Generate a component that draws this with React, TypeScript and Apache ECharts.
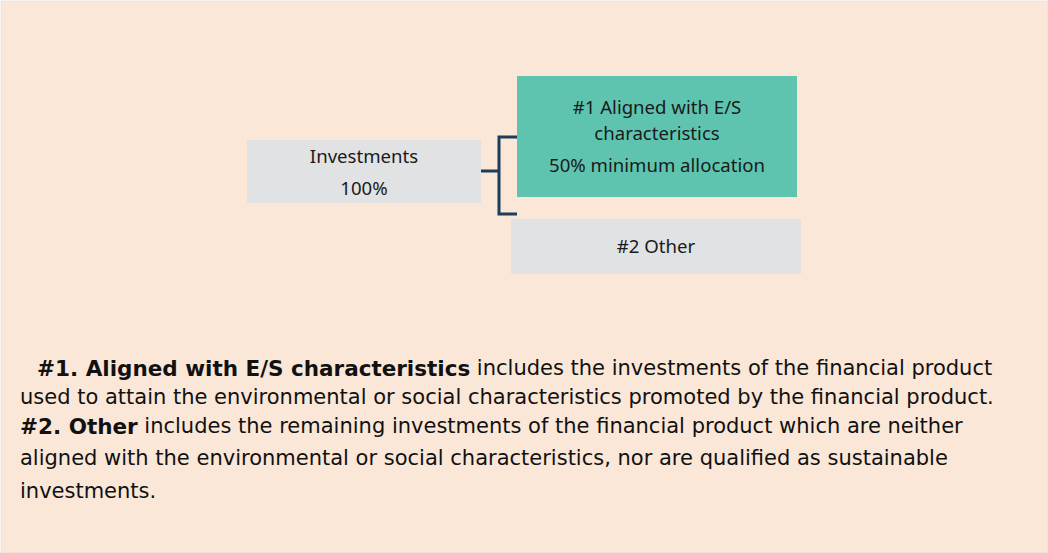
import React, { useEffect, useRef } from "react";
import * as echarts from "echarts";

const nodeLabels = ["Investments", "#1 Aligned with E/S", "characteristics", "#2 Other"];
const nodeValues = ["100%", "50% minimum allocation", ""];
const noteLines = [
  ["#1. Aligned with E/S characteristics", " includes the investments of the financial product"],
  ["", "used to attain the environmental or social characteristics promoted by the financial product."],
  ["#2. Other", " includes the remaining investments of the financial product which are neither"],
  ["", "aligned with the environmental or social characteristics, nor are qualified as sustainable"],
  ["", "investments."],
];

const BG = "#FAE7D7";
const GRAY = "#E1E2E3";
const TEAL = "#5EC4AF";
const NAVY = "#1D3D5A";
const BOXFONT = "'Noto Sans'";
const NOTEFONT = "'DejaVu Sans'";

export default function App() {
  const ref = useRef<HTMLDivElement>(null);
  useEffect(() => {
    document.body.style.margin = "0";
    const chart = echarts.init(ref.current!, null, { renderer: "svg" });
    const boxText = (t: string, x: number, y: number) => ({
      type: "text",
      x,
      y,
      style: {
        text: t,
        fill: "#1a1a1a",
        font: `18.6px ${BOXFONT}`,
        align: "center",
        verticalAlign: "middle",
      },
    });
    const lineYs = [368, 397, 426, 458, 491];
    const notes = noteLines.map((ln, i) => {
      const [b, n] = ln;
      const parts: string[] = [];
      if (b) parts.push(`{b|${b}}`);
      if (n) parts.push(`{n|${n}}`);
      return {
        type: "text",
        x: i === 0 ? 37 : 20,
        y: lineYs[i],
        style: {
          text: parts.join(""),
          verticalAlign: "middle",
          align: "left",
          rich: {
            b: { font: `bold 21.5px ${NOTEFONT}`, fill: "#111" },
            n: { font: `21px ${NOTEFONT}`, fill: "#111" },
          },
        },
      };
    });
    const option: any = {
      animation: false,
      backgroundColor: "#ffffff",
      graphic: [
        { type: "rect", shape: { x: 1, y: 1, width: 1047, height: 552 }, style: { fill: BG, stroke: "#e0d8d0", lineWidth: 0.6 } },
        { type: "rect", shape: { x: 247, y: 140, width: 234, height: 63 }, style: { fill: GRAY } },
        { type: "rect", shape: { x: 517, y: 76, width: 280, height: 121 }, style: { fill: TEAL } },
        { type: "rect", shape: { x: 511, y: 219, width: 290, height: 55 }, style: { fill: GRAY } },
        { type: "polyline", shape: { points: [[481, 171], [499, 171]] }, style: { stroke: NAVY, lineWidth: 3, fill: "none" } },
        { type: "polyline", shape: { points: [[517, 137], [499, 137], [499, 214], [517, 214]] }, style: { stroke: NAVY, lineWidth: 3, fill: "none" } },
        boxText(nodeLabels[0], 364, 155),
        boxText(nodeValues[0], 364, 187),
        boxText(nodeLabels[1], 657, 106.5),
        boxText(nodeLabels[2], 657, 132),
        boxText(nodeValues[1], 657, 164.5),
        boxText(nodeLabels[3], 656, 245),
        ...notes,
      ],
    };
    chart.setOption(option);
    return () => chart.dispose();
  }, []);
  return <div ref={ref} style={{ width: 1048, height: 553 }} />;
}
